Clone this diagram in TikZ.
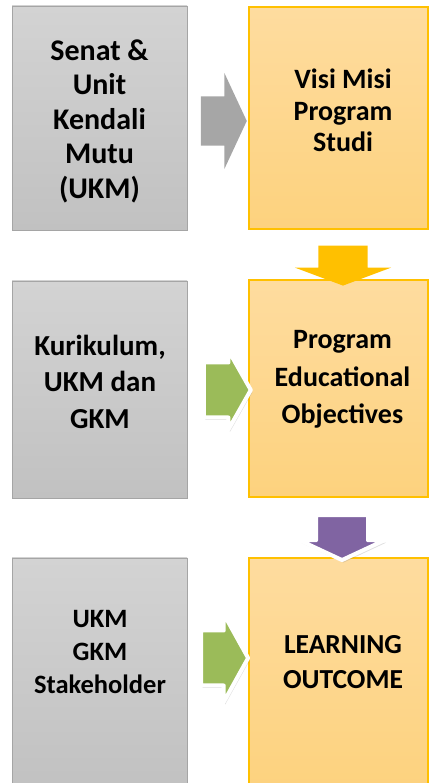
\documentclass[tikz,border=0pt]{standalone}
\usepackage{fontspec}
\setmainfont{Carlito}
\usetikzlibrary{shapes.arrows, shadows}

\definecolor{greytop}{HTML}{D3D3D3}
\definecolor{greybottom}{HTML}{C1C1C1}
\definecolor{greyline}{HTML}{A5A5A5}
\definecolor{goldline}{HTML}{FFC000}
\definecolor{goldtop}{HTML}{FEDC9F}
\definecolor{goldbottom}{HTML}{FDD27E}
\definecolor{arrowgrey}{HTML}{A6A6A6}
\definecolor{arrowgreen}{HTML}{9BBB59}
\definecolor{arrowpurple}{HTML}{8064A2}

\begin{document}
\begin{tikzpicture}[x=1pt, y=1pt,
  greybox/.style={rectangle, draw=greyline, line width=0.8pt, top color=greytop, bottom color=greybottom, inner sep=0pt, minimum width=175pt},
  goldbox/.style={rectangle, draw=goldline, line width=1.2pt, top color=goldtop, bottom color=goldbottom, inner sep=0pt, minimum width=179pt},
  boxtext/.style 2 args={align=center, inner sep=0pt, font=\fontsize{#1}{#2}\selectfont\bfseries},
  blockarrow/.style={single arrow, inner xsep=0pt, draw=none},
  whitearrow/.style={single arrow, inner xsep=0pt, draw=white, line width=4pt, line join=round,
    drop shadow={shadow xshift=1.5pt, shadow yshift=-2.5pt, opacity=0.25}}]
\clip (0,0) rectangle (431,783);

% Left column
\node[greybox, minimum height=224pt] (senat) at (99.5,665) {};
\node[greybox, minimum height=217pt] (kurikulum) at (99.5,393.5) {};
\node[greybox, minimum height=232pt] (ukm) at (99.5,109) {};

% Right column
\node[goldbox, minimum height=222pt] (visi) at (338.5,665) {};
\node[goldbox, minimum height=217pt] (peo) at (338.5,394.5) {};
\node[goldbox, minimum height=232pt] (outcome) at (338.5,109) {};

% Texts
\node[boxtext={30}{34.5}] (senat-t) at (99.5,662) {Senat \&\\ Unit\\Kendali\\Mutu\\(UKM)};
\node[boxtext={28}{31.5}] (visi-t) at (343,672.5) {Visi Misi\\Program\\Studi};
\node[boxtext={29}{36.5}] (kurikulum-t) at (100,401.5) {Kurikulum,\\UKM dan\\GKM};
\node[boxtext={28}{37.5}] (peo-t) at (342.5,403.5) {Program\\Educational\\Objectives};
\node[boxtext={26.5}{33}] (ukm-t) at (100,131) {UKM\\GKM\\Stakeholder};
\node[boxtext={27.5}{35}] (outcome-t) at (343,120.5) {LEARNING\\OUTCOME};

% Arrows
\node[blockarrow, fill=arrowgrey, minimum height=46pt, inner ysep=24.5pt,
  single arrow head extend=23.5pt, single arrow tip angle=130] (arr-visi) at (218,662) {};
\node[blockarrow, fill=goldline, minimum height=40pt, inner ysep=24.5pt, rotate=-90,
  single arrow head extend=23.5pt, single arrow tip angle=139] (arr-peo) at (343,522) {};
\node[whitearrow, fill=arrowgreen, minimum height=47pt, inner ysep=25.5pt,
  single arrow head extend=12pt, single arrow tip angle=121] (arr-kurikulum) at (219.5,393) {};
\node[whitearrow, fill=arrowpurple, minimum height=45pt, inner ysep=24pt, rotate=-90,
  single arrow head extend=16.5pt, single arrow tip angle=130] (arr-outcome) at (342,251.5) {};
\node[whitearrow, fill=arrowgreen, minimum height=47pt, inner ysep=25.5pt,
  single arrow head extend=16.5pt, single arrow tip angle=122] (arr-ukm) at (217,125) {};
\end{tikzpicture}
\end{document}
